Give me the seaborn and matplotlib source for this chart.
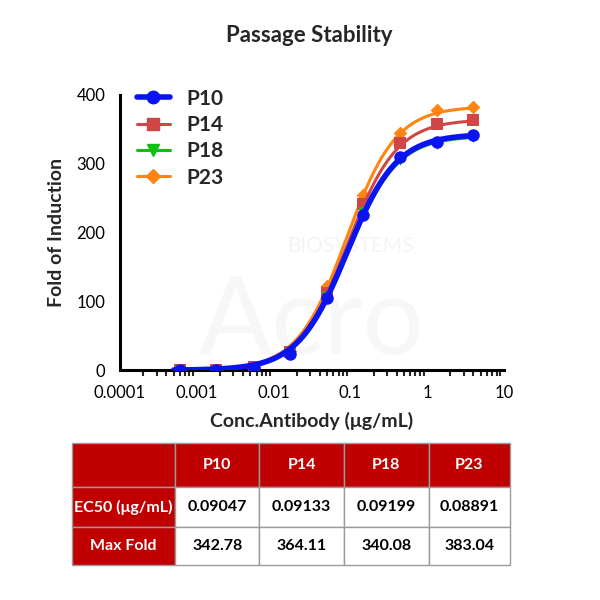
import numpy as np
import pandas as pd
import matplotlib
matplotlib.use('Agg')
import matplotlib.pyplot as plt
from matplotlib.lines import Line2D
from matplotlib.ticker import LogLocator, FixedLocator, NullFormatter
import seaborn as sns

# data
conc = [0.0006, 0.0018, 0.0055, 0.0165, 0.05, 0.148, 0.444, 1.33, 4.0]
p10 = [1, 1, 3, 24, 105, 225, 310, 332, 342]
p14 = [1, 1, 4, 27, 112, 242, 330, 358, 364]
p18 = [1, 1, 3, 25, 107, 230, 305, 328, 338]
p23 = [1, 1, 4, 28, 122, 255, 345, 378, 383]
passages = ['P10', 'P14', 'P18', 'P23']
ec50 = [0.09047, 0.09133, 0.09199, 0.08891]
max_fold = [342.78, 364.11, 340.08, 383.04]
hill = [1.35, 1.35, 1.35, 1.35]

COLORS = {'P10': '#0A14F0', 'P14': '#D04545', 'P18': '#10C010', 'P23': '#FF8410'}
MARKERS = {'P10': 'o', 'P14': 's', 'P18': 'v', 'P23': 'D'}
LW = {'P10': 4.0, 'P14': 2.2, 'P18': 2.2, 'P23': 2.2}
MS = {'P10': 9, 'P14': 9, 'P18': 8, 'P23': 7}
ZO = {'P10': 8, 'P18': 6, 'P14': 4, 'P23': 2}
RED = '#C00000'

sns.set_style('white')
plt.rcParams['font.family'] = ['Lato', 'DejaVu Sans']

values = dict(zip(passages, [p10, p14, p18, p23]))
df = pd.DataFrame([(p, c, v) for p in passages for c, v in zip(conc, values[p])],
                  columns=['passage', 'conc', 'fold'])

fig = plt.figure(figsize=(6, 6), dpi=100)
ax = fig.add_axes([0.2, 0.383, 0.64, 0.459])

# faint watermark behind the data
ax.text(0.6, 0.45, 'BIOSYSTEMS', transform=ax.transAxes, ha='center', va='center',
        fontsize=15, color='#f4f4f4', zorder=0)
ax.text(0.5, 0.17, 'Acro', transform=ax.transAxes, ha='center', va='center',
        fontsize=78, color='#f7f7f7', zorder=0)

xfit = np.logspace(np.log10(0.0005), np.log10(4.2), 300)
for p, e, top, h in zip(passages, ec50, max_fold, hill):
    yfit = top / (1 + (e / xfit) ** h)
    sns.lineplot(x=xfit, y=yfit, color=COLORS[p], lw=LW[p], ax=ax, zorder=ZO[p])
    sub = df[df.passage == p]
    sns.scatterplot(data=sub, x='conc', y='fold', marker=MARKERS[p], color=COLORS[p],
                    s=MS[p] ** 2, edgecolor=COLORS[p], linewidth=0, ax=ax, zorder=ZO[p] + 1)

ax.set_xscale('log')
ax.set_xlim(0.0001, 10)
ax.set_ylim(0, 400)
ax.xaxis.set_major_locator(FixedLocator([0.0001, 0.001, 0.01, 0.1, 1, 10]))
ax.set_xticklabels(['0.0001', '0.001', '0.01', '0.1', '1', '10'])
ax.xaxis.set_minor_locator(LogLocator(base=10, subs=np.arange(2, 10)))
ax.xaxis.set_minor_formatter(NullFormatter())
ax.set_yticks([0, 100, 200, 300, 400])
for s in ['top', 'right']:
    ax.spines[s].set_visible(False)
for s in ['left', 'bottom']:
    ax.spines[s].set_linewidth(2.2)
    ax.spines[s].set_color('black')
ax.tick_params(axis='both', which='major', direction='out', length=7, width=2, labelsize=12, colors='black')
ax.tick_params(axis='x', which='minor', direction='out', length=4, width=1.5, bottom=True)
ax.set_xlabel('Conc.Antibody (μg/mL)', fontsize=14, fontweight='bold', labelpad=8)
ax.set_ylabel('Fold of Induction', fontsize=14, fontweight='bold', labelpad=8)

handles = [Line2D([], [], color=COLORS[p], lw=LW[p], marker=MARKERS[p], ms=MS[p]) for p in passages]
ax.legend(handles, passages, loc='upper left', bbox_to_anchor=(-0.005, 1.09), frameon=False,
          prop={'weight': 'bold', 'size': 15}, handlelength=1.6, labelspacing=0.3, handletextpad=0.8)

fig.text(0.515, 0.94, 'Passage Stability', ha='center', va='center', fontsize=16, fontweight='bold')

# table
tax = fig.add_axes([0.12, 0.058, 0.73, 0.204])
tax.axis('off')
cells = [[''] + passages,
         ['EC50 (μg/mL)'] + [f'{v:.5f}' for v in ec50],
         ['Max Fold'] + [f'{v:.2f}' for v in max_fold]]
tbl = tax.table(cellText=cells, bbox=[0, 0, 1, 1], cellLoc='center',
                colWidths=[0.235, 0.193, 0.193, 0.193, 0.186])
tbl.auto_set_font_size(False)
heights = [0.36, 0.33, 0.31]
for (r, c), cell in tbl.get_celld().items():
    cell.set_edgecolor('#9a9a9a')
    cell.set_linewidth(1)
    cell.set_height(heights[r])
    txt = cell.get_text()
    txt.set_fontsize(11.5)
    txt.set_fontweight('bold')
    if r == 0 or c == 0:
        cell.set_facecolor(RED)
        txt.set_color('white')
    else:
        cell.set_facecolor('white')
        txt.set_color('black')

fig.savefig('out.png', dpi=100, facecolor='white')
